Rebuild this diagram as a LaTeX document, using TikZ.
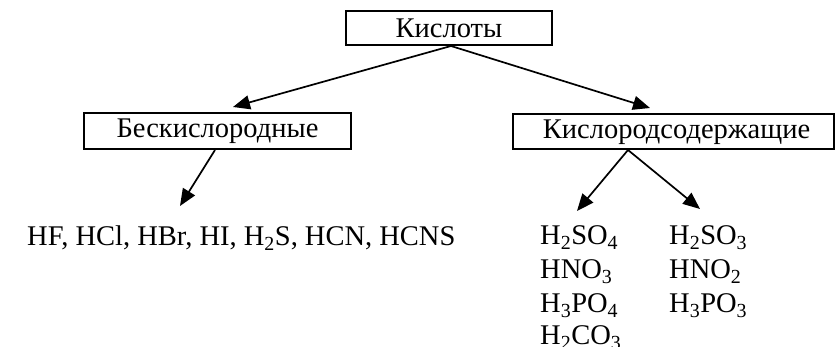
\documentclass[tikz,border=0pt]{standalone}
\usepackage{fontspec}
\setmainfont{Liberation Serif}
\usetikzlibrary{arrows.meta}
\begin{document}
\begin{tikzpicture}[x=1pt,y=-1pt,
  every node/.style={font=\fontsize{28.5pt}{34pt}\selectfont},
  catbox/.style={draw, line width=2pt, inner sep=0pt},
  formula/.style={anchor=base west, inner sep=0pt},
  arr/.style={line width=1.7pt, -{Triangle[length=17pt,width=14pt]}}]
\useasboundingbox (0,0) rectangle (836,347);
\node[catbox, minimum width=206pt, minimum height=34pt] (top) at (449,28) {Кислоты};
\node[catbox, minimum width=267pt, minimum height=36pt] (lb) at (217.5,131.5) {Бескислородные};
\node[catbox, minimum width=321pt, minimum height=35.5pt] (rb) at (673.5,131.75) {\hspace*{6pt}Кислородсодержащие};
\coordinate (a0) at (451,46);
\coordinate (aL) at (233,107);
\coordinate (aR) at (650,108);
\coordinate (bL0) at (215,150);
\coordinate (bL) at (180,206);
\coordinate (bR0) at (628,150);
\coordinate (bR1) at (577,211);
\coordinate (bR2) at (700,209);
\draw[arr] (a0) -- (aL);
\draw[arr] (a0) -- (aR);
\draw[arr] (bL0) -- (bL);
\draw[arr] (bR0) -- (bR1);
\draw[arr] (bR0) -- (bR2);
\node[formula] (hf) at (27,246) {HF, HCl, HBr, HI, H\textsubscript{2}S, HCN, HCNS};
\node[formula] (f1) at (540,245) {H\textsubscript{2}SO\textsubscript{4}};
\node[formula] (f2) at (540,279) {HNO\textsubscript{3}};
\node[formula] (f3) at (540,313) {H\textsubscript{3}PO\textsubscript{4}};
\node[formula] (f4) at (540,345) {H\textsubscript{2}CO\textsubscript{3}};
\node[formula] (g1) at (669,245) {H\textsubscript{2}SO\textsubscript{3}};
\node[formula] (g2) at (669,279) {HNO\textsubscript{2}};
\node[formula] (g3) at (669,313) {H\textsubscript{3}PO\textsubscript{3}};
\end{tikzpicture}
\end{document}
